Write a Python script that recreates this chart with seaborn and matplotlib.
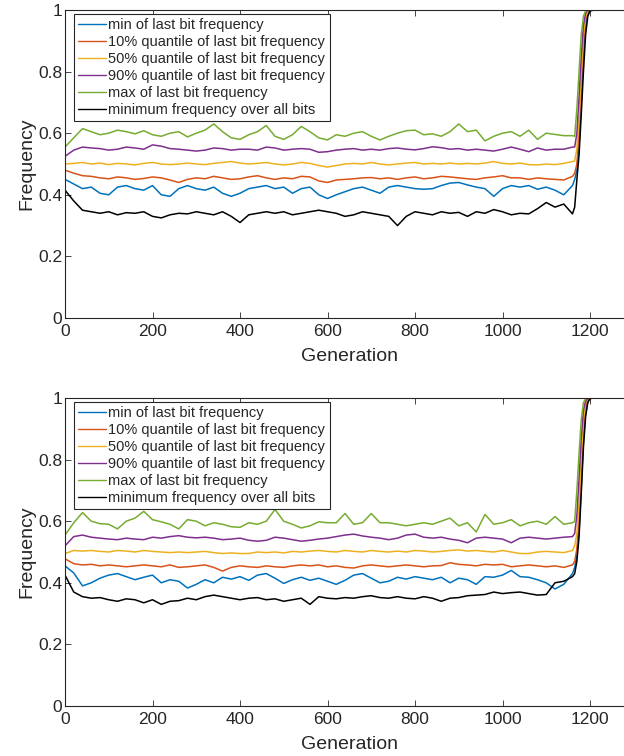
import matplotlib
matplotlib.use("Agg")
import matplotlib.pyplot as plt
import seaborn as sns
import pandas as pd

# generations: every 20 up to 1160, then denser through the final rise
generation = list(range(0, 1161, 20)) + [1165, 1170, 1175, 1180, 1185, 1190, 1195, 1200, 1210, 1300]

labels = ["min of last bit frequency", "10% quantile of last bit frequency",
          "50% quantile of last bit frequency", "90% quantile of last bit frequency",
          "max of last bit frequency", "minimum frequency over all bits"]
colors = ["#0072BD", "#D95319", "#EDB120", "#7E2F8E", "#77AC30", "#000000"]

# ---- top panel ----
top_min = [0.450, 0.435, 0.420, 0.425, 0.405, 0.400, 0.425, 0.430, 0.420, 0.415,
           0.430, 0.400, 0.395, 0.420, 0.430, 0.420, 0.415, 0.425, 0.405, 0.395,
           0.405, 0.420, 0.425, 0.430, 0.420, 0.425, 0.405, 0.420, 0.425, 0.400,
           0.388, 0.400, 0.410, 0.420, 0.425, 0.415, 0.405, 0.425, 0.430, 0.425,
           0.420, 0.418, 0.420, 0.430, 0.438, 0.440, 0.432, 0.425, 0.420, 0.395,
           0.420, 0.430, 0.425, 0.430, 0.418, 0.425, 0.415, 0.400, 0.430,
           0.45, 0.48, 0.56, 0.70, 0.85, 0.95, 0.99, 1.0, 1.0, 1.0]
top_q10 = [0.480, 0.470, 0.462, 0.460, 0.455, 0.452, 0.458, 0.455, 0.450, 0.453,
           0.458, 0.455, 0.448, 0.440, 0.450, 0.455, 0.452, 0.460, 0.455, 0.450,
           0.452, 0.458, 0.462, 0.455, 0.450, 0.455, 0.452, 0.460, 0.458, 0.445,
           0.440, 0.448, 0.450, 0.452, 0.455, 0.456, 0.452, 0.455, 0.450, 0.455,
           0.458, 0.452, 0.455, 0.460, 0.458, 0.455, 0.452, 0.450, 0.455, 0.458,
           0.462, 0.455, 0.455, 0.450, 0.455, 0.452, 0.450, 0.448, 0.460,
           0.47, 0.50, 0.60, 0.76, 0.89, 0.97, 0.995, 1.0, 1.0, 1.0]
top_q50 = [0.500, 0.502, 0.505, 0.500, 0.503, 0.498, 0.502, 0.500, 0.497, 0.502,
           0.505, 0.500, 0.498, 0.500, 0.503, 0.500, 0.498, 0.502, 0.505, 0.508,
           0.503, 0.500, 0.502, 0.505, 0.500, 0.497, 0.500, 0.505, 0.502, 0.495,
           0.490, 0.495, 0.500, 0.502, 0.500, 0.505, 0.500, 0.497, 0.500, 0.503,
           0.505, 0.500, 0.502, 0.500, 0.503, 0.500, 0.502, 0.500, 0.503, 0.508,
           0.502, 0.500, 0.503, 0.498, 0.497, 0.500, 0.498, 0.502, 0.508,
           0.51, 0.55, 0.65, 0.80, 0.92, 0.98, 0.997, 1.0, 1.0, 1.0]
top_q90 = [0.525, 0.545, 0.555, 0.552, 0.550, 0.545, 0.548, 0.555, 0.552, 0.548,
           0.562, 0.558, 0.550, 0.548, 0.545, 0.542, 0.545, 0.552, 0.550, 0.545,
           0.548, 0.548, 0.545, 0.555, 0.552, 0.545, 0.548, 0.550, 0.548, 0.538,
           0.540, 0.545, 0.548, 0.550, 0.545, 0.548, 0.545, 0.550, 0.552, 0.548,
           0.546, 0.550, 0.556, 0.553, 0.548, 0.550, 0.545, 0.548, 0.545, 0.542,
           0.548, 0.555, 0.548, 0.540, 0.552, 0.545, 0.548, 0.548, 0.555,
           0.555, 0.60, 0.72, 0.85, 0.95, 0.99, 1.0, 1.0, 1.0, 1.0]
top_max = [0.555, 0.585, 0.615, 0.605, 0.595, 0.600, 0.610, 0.605, 0.598, 0.608,
           0.595, 0.590, 0.600, 0.605, 0.588, 0.600, 0.610, 0.630, 0.605, 0.585,
           0.580, 0.595, 0.605, 0.625, 0.590, 0.580, 0.595, 0.622, 0.605, 0.585,
           0.578, 0.595, 0.590, 0.600, 0.605, 0.590, 0.578, 0.590, 0.600, 0.608,
           0.610, 0.595, 0.598, 0.590, 0.605, 0.630, 0.605, 0.610, 0.575, 0.590,
           0.600, 0.605, 0.590, 0.610, 0.580, 0.600, 0.596, 0.592, 0.592,
           0.59, 0.68, 0.80, 0.92, 0.98, 0.997, 1.0, 1.0, 1.0, 1.0]
top_all = [0.415, 0.380, 0.350, 0.345, 0.340, 0.345, 0.335, 0.342, 0.340, 0.345,
           0.330, 0.325, 0.335, 0.340, 0.338, 0.345, 0.340, 0.335, 0.345, 0.330,
           0.310, 0.335, 0.340, 0.345, 0.340, 0.345, 0.335, 0.340, 0.345, 0.350,
           0.345, 0.340, 0.330, 0.335, 0.345, 0.340, 0.335, 0.330, 0.300, 0.330,
           0.345, 0.340, 0.335, 0.345, 0.340, 0.343, 0.330, 0.345, 0.340, 0.352,
           0.345, 0.335, 0.340, 0.338, 0.355, 0.375, 0.360, 0.370, 0.338,
           0.36, 0.45, 0.53, 0.66, 0.80, 0.92, 0.98, 0.997, 1.0, 1.0]

# ---- bottom panel ----
bot_min = [0.455, 0.432, 0.390, 0.400, 0.415, 0.425, 0.430, 0.420, 0.410, 0.418,
           0.425, 0.400, 0.410, 0.405, 0.383, 0.395, 0.410, 0.400, 0.418, 0.412,
           0.420, 0.408, 0.425, 0.430, 0.415, 0.398, 0.410, 0.418, 0.408, 0.415,
           0.405, 0.395, 0.408, 0.425, 0.430, 0.415, 0.400, 0.405, 0.418, 0.412,
           0.420, 0.415, 0.410, 0.418, 0.400, 0.415, 0.410, 0.395, 0.420, 0.418,
           0.425, 0.440, 0.420, 0.418, 0.410, 0.400, 0.380, 0.395, 0.430,
           0.45, 0.49, 0.57, 0.71, 0.86, 0.95, 0.99, 1.0, 1.0, 1.0]
bot_q10 = [0.478, 0.462, 0.458, 0.460, 0.455, 0.458, 0.455, 0.452, 0.455, 0.458,
           0.455, 0.452, 0.458, 0.450, 0.452, 0.455, 0.458, 0.450, 0.438, 0.450,
           0.455, 0.452, 0.450, 0.455, 0.452, 0.450, 0.455, 0.458, 0.455, 0.458,
           0.452, 0.455, 0.450, 0.448, 0.455, 0.458, 0.455, 0.452, 0.455, 0.458,
           0.455, 0.452, 0.455, 0.456, 0.465, 0.460, 0.458, 0.455, 0.460, 0.458,
           0.460, 0.452, 0.455, 0.458, 0.455, 0.452, 0.455, 0.450, 0.458,
           0.47, 0.51, 0.61, 0.77, 0.90, 0.97, 0.995, 1.0, 1.0, 1.0]
bot_q50 = [0.495, 0.505, 0.503, 0.505, 0.502, 0.500, 0.505, 0.503, 0.500, 0.505,
           0.502, 0.500, 0.498, 0.500, 0.498, 0.500, 0.502, 0.498, 0.495, 0.497,
           0.495, 0.495, 0.500, 0.498, 0.500, 0.497, 0.502, 0.500, 0.503, 0.505,
           0.502, 0.500, 0.505, 0.502, 0.500, 0.505, 0.502, 0.500, 0.503, 0.500,
           0.505, 0.503, 0.500, 0.502, 0.505, 0.507, 0.503, 0.505, 0.502, 0.500,
           0.505, 0.500, 0.495, 0.495, 0.500, 0.502, 0.500, 0.498, 0.505,
           0.52, 0.56, 0.66, 0.81, 0.93, 0.985, 0.998, 1.0, 1.0, 1.0]
bot_q90 = [0.520, 0.550, 0.555, 0.548, 0.545, 0.542, 0.540, 0.545, 0.542, 0.540,
           0.548, 0.545, 0.550, 0.553, 0.548, 0.546, 0.548, 0.545, 0.540, 0.542,
           0.545, 0.538, 0.535, 0.538, 0.548, 0.545, 0.540, 0.535, 0.538, 0.542,
           0.545, 0.550, 0.555, 0.558, 0.552, 0.548, 0.545, 0.540, 0.545, 0.555,
           0.558, 0.548, 0.545, 0.548, 0.542, 0.538, 0.530, 0.545, 0.548, 0.545,
           0.542, 0.530, 0.545, 0.548, 0.545, 0.542, 0.545, 0.548, 0.550,
           0.56, 0.62, 0.74, 0.87, 0.96, 0.99, 1.0, 1.0, 1.0, 1.0]
bot_max = [0.555, 0.595, 0.628, 0.600, 0.592, 0.590, 0.575, 0.600, 0.610, 0.632,
           0.605, 0.598, 0.590, 0.575, 0.605, 0.600, 0.585, 0.595, 0.590, 0.582,
           0.580, 0.595, 0.590, 0.600, 0.638, 0.600, 0.590, 0.578, 0.585, 0.598,
           0.595, 0.595, 0.625, 0.590, 0.595, 0.625, 0.595, 0.595, 0.590, 0.585,
           0.590, 0.595, 0.590, 0.600, 0.610, 0.585, 0.595, 0.565, 0.622, 0.590,
           0.595, 0.605, 0.585, 0.595, 0.600, 0.590, 0.615, 0.590, 0.595,
           0.60, 0.70, 0.82, 0.93, 0.985, 0.998, 1.0, 1.0, 1.0, 1.0]
bot_all = [0.425, 0.370, 0.355, 0.350, 0.352, 0.345, 0.340, 0.348, 0.345, 0.335,
           0.345, 0.330, 0.340, 0.342, 0.350, 0.345, 0.355, 0.360, 0.355, 0.350,
           0.345, 0.350, 0.352, 0.345, 0.348, 0.340, 0.345, 0.350, 0.330, 0.355,
           0.350, 0.348, 0.352, 0.350, 0.355, 0.358, 0.352, 0.350, 0.355, 0.350,
           0.348, 0.355, 0.350, 0.340, 0.350, 0.352, 0.358, 0.360, 0.362, 0.370,
           0.365, 0.368, 0.370, 0.365, 0.360, 0.362, 0.400, 0.405, 0.420,
           0.43, 0.47, 0.55, 0.69, 0.84, 0.94, 0.985, 0.998, 1.0, 1.0]

panels = [[top_min, top_q10, top_q50, top_q90, top_max, top_all],
          [bot_min, bot_q10, bot_q50, bot_q90, bot_max, bot_all]]

sns.set_theme(style="white", rc={"axes.edgecolor": "#262626", "axes.linewidth": 0.8,
                                 "xtick.color": "#262626", "ytick.color": "#262626",
                                 "text.color": "#262626", "axes.labelcolor": "#262626"})
plt.rcParams['font.family'] = ['Liberation Sans', 'DejaVu Sans']

W, H = 624, 756
fig = plt.figure(figsize=(W / 100, H / 100), dpi=100)
px_per_gen = 0.4375
xmax = 1300
# axes boxes in pixels: left, top, bottom
boxes = [(65, 10, 318), (65, 398, 706)]

for (left, top, bottom), series in zip(boxes, panels):
    ax = fig.add_axes([left / W, 1 - bottom / H, xmax * px_per_gen / W, (bottom - top) / H])
    rows = []
    for lab, vals in zip(labels, series):
        for g, v in zip(generation, vals):
            rows.append({"Generation": g, "Frequency": v, "series": lab})
    df = pd.DataFrame(rows)
    sns.lineplot(data=df, x="Generation", y="Frequency", hue="series", hue_order=labels,
                 palette=dict(zip(labels, colors)), estimator=None, sort=False,
                 linewidth=1.1, ax=ax, legend=False)
    ax.set_xlim(0, xmax)
    ax.set_ylim(0, 1)
    ax.set_xticks(range(0, 1201, 200))
    ax.set_yticks([0, 0.2, 0.4, 0.6, 0.8, 1])
    ax.set_yticklabels(["0", "0.2", "0.4", "0.6", "0.8", "1"])
    ax.tick_params(direction="in", length=4, width=0.6, labelsize=12.5, pad=2,
                   top=True, right=True, bottom=True, left=True)
    ax.tick_params(axis="x", pad=4)
    ax.set_xlabel("Generation", fontsize=14, labelpad=7)
    ax.set_ylabel("Frequency", fontsize=14, labelpad=2)
    handles = [plt.Line2D([], [], color=c, lw=1.0) for c in colors]
    leg = ax.legend(handles, labels, loc="upper left", bbox_to_anchor=(0.016, 0.987),
                    borderaxespad=0, fontsize=10.5, frameon=True, fancybox=False,
                    handlelength=1.9, handletextpad=0.15, labelspacing=0.2,
                    borderpad=0.3, edgecolor="#262626", framealpha=1)
    leg.get_frame().set_linewidth(0.8)

fig.savefig("out.png", dpi=100)
